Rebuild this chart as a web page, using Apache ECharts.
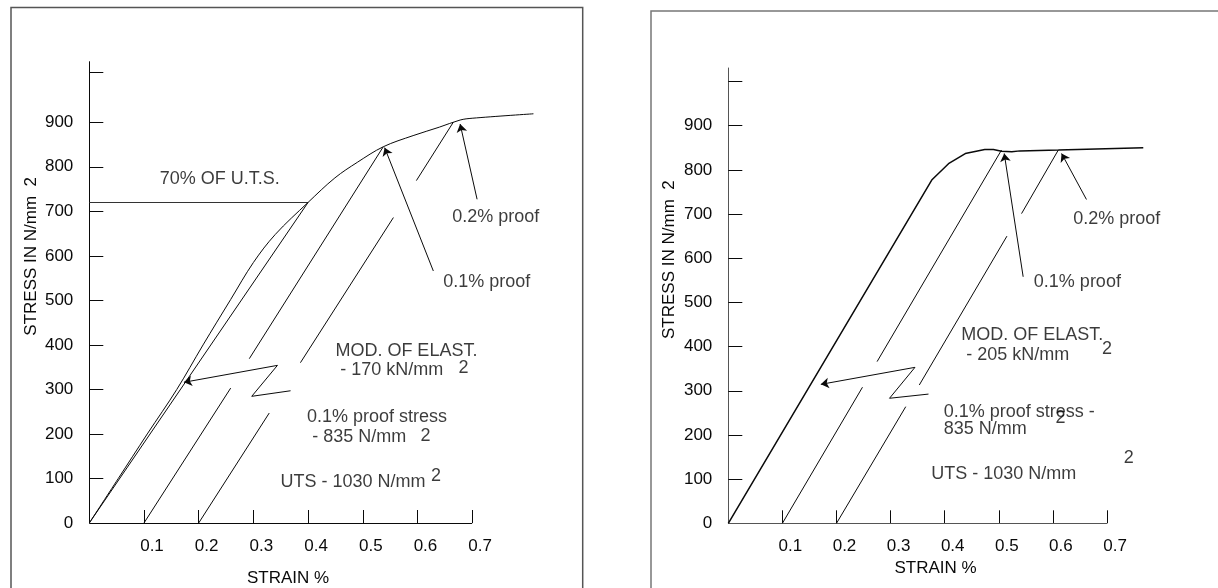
<!DOCTYPE html>
<html><head><meta charset="utf-8">
<script src="https://cdn.jsdelivr.net/npm/echarts@6/dist/echarts.min.js"></script>
<style>html,body{margin:0;padding:0;background:#fff}#c{width:1218px;height:588px}</style>
</head><body><div id="c"></div>
<script>
// ---------- data ----------
const strainTicks = [0.1, 0.2, 0.3, 0.4, 0.5, 0.6, 0.7];
const stressLabels = [0, 100, 200, 300, 400, 500, 600, 700, 800, 900];
const leftStressTicks = [100, 200, 300, 400, 500, 600, 700, 800, 900, 1012];
const rightStressTicks = [100, 200, 300, 400, 500, 600, 700, 800, 900, 1000];
const strainAxisLine = [[[0, 0], [0.7, 0]]];

// left chart (MOD. OF ELAST. 170 kN/mm2)
const leftCurve = [[0,0],[0.053,100],[0.106,200],[0.16,300],[0.208,400],[0.2585,502],[0.30,585],[0.34,648],[0.40,720],[0.449,775],[0.49,810],[0.5375,845],[0.592,870],[0.64,889],[0.678,905],[0.70,909],[0.812,919]];
const leftModulus = [[[0,0],[0.4,720]]];
const leftUts70 = [[[0,720],[0.4,720]]];
const leftOffset01 = [[[0.1,0],[0.2585,303]], [[0.2925,369],[0.5375,845]]];
const leftOffset02 = [[[0.2,0],[0.329,247]], [[0.386,360],[0.556,686]], [[0.598,769],[0.6655,900]]];
const leftZig = [[[0.368,297],[0.297,284.5]], [[0.297,284.5],[0.344,354]]];
const leftArrows = [[[0.344,354],[0.173,316]], [[0.629,566],[0.54,843]], [[0.709,727],[0.678,896]]];
const leftNotes = [
  ['70% OF U.T.S.', 0.128, 773],
  ['0.2% proof', 0.6625, 688],
  ['0.1% proof', 0.646, 542],
  ['MOD. OF ELAST.', 0.449, 387],
  ['- 170 kN/mm', 0.458, 344],
  ['2', 0.674, 347],
  ['0.1% proof stress', 0.397, 237.5],
  ['- 835 N/mm', 0.4066, 194],
  ['2', 0.6046, 195.5],
  ['UTS - 1030 N/mm', 0.3486, 92.8],
  ['2', 0.624, 106.3]
];

// right chart (MOD. OF ELAST. 205 kN/mm2)
const rightCurve = [[0,0],[0.376,777],[0.407,814],[0.438,837],[0.474,846],[0.49,846],[0.505,842],[0.524,841],[0.539,843],[0.61,845],[0.767,850]];
const rightOffset01 = [[[0.1,0],[0.248,308]], [[0.275,366],[0.505,845]]];
const rightOffset02 = [[[0.2,0],[0.328,264]], [[0.353,313],[0.515,650]], [[0.542,701],[0.61,845]]];
const rightZig = [[[0.37,292.5],[0.298,283]], [[0.298,283],[0.345,353]]];
const rightArrows = [[[0.345,353],[0.171,314.5]], [[0.545,558],[0.51,837]], [[0.662,733],[0.616,837]]];
const rightNotes = [
  ['0.2% proof', 0.6366, 688],
  ['0.1% proof', 0.5638, 547],
  ['MOD. OF ELAST.', 0.4296, 426],
  ['2', 0.690, 395],
  ['- 205 kN/mm', 0.4388, 381],
  ['0.1% proof stress -', 0.3974, 252.6],
  ['2', 0.6039, 237.7],
  ['835 N/mm', 0.3974, 212.8],
  ['2', 0.730, 147],
  ['UTS - 1030 N/mm', 0.3741, 111.6]
];

// ---------- chart ----------
const FONT = '"Liberation Sans", Arial, Helvetica, sans-serif';
const INK = '#0a0a0a';

function xAxisDef(gi, max, gap, pad) {
  return {
    type: 'value', gridIndex: gi, min: 0, max: max,
    name: 'STRAIN %', nameLocation: 'middle', nameGap: gap,
    nameTextStyle: { fontFamily: FONT, fontSize: 17, color: INK, padding: pad },
    axisLine: { show: false },
    axisTick: { show: true, inside: true, length: 13, customValues: strainTicks, lineStyle: { color: INK } },
    axisLabel: { show: true, customValues: strainTicks, margin: 15, fontFamily: FONT, fontSize: 17, color: INK,
      padding: [0, 0, 0, 16], formatter: v => v.toFixed(1) },
    splitLine: { show: false }
  };
}
function yAxisDef(gi, max, ticks, name) {
  return {
    type: 'value', gridIndex: gi, min: 0, max: max,
    name: name, nameLocation: 'middle', nameGap: gi === 0 ? 49 : 50, nameRotate: 90,
    nameTextStyle: { fontFamily: FONT, fontSize: 17, color: INK, padding: [0, 0, 0, 72] },
    axisLine: { show: true, lineStyle: { color: gi === 0 ? INK : '#555', width: 1 } },
    axisTick: { show: true, inside: true, length: 14, customValues: ticks, lineStyle: { color: INK } },
    axisLabel: { show: true, customValues: stressLabels, margin: 16, fontFamily: FONT, fontSize: 17, color: INK },
    splitLine: { show: false }
  };
}
function segs(data, gi, width, color) {
  return { type: 'lines', coordinateSystem: 'cartesian2d', xAxisIndex: gi, yAxisIndex: gi, silent: true, clip: false,
    symbol: 'none', lineStyle: { color: color || INK, width: width || 1, opacity: 1, curveness: 0 },
    data: data.map(c => ({ coords: c })) };
}
function arrows(data, gi) {
  return { type: 'lines', coordinateSystem: 'cartesian2d', xAxisIndex: gi, yAxisIndex: gi, silent: true, clip: false,
    symbol: ['none', 'arrow'], symbolSize: 8, lineStyle: { color: INK, width: 1, opacity: 1, curveness: 0 },
    itemStyle: { color: INK },
    data: data.map(c => ({ coords: c })) };
}
function curve(data, gi, smooth, width) {
  return { type: 'line', xAxisIndex: gi, yAxisIndex: gi, data: data, smooth: smooth, showSymbol: false, symbol: 'none',
    clip: false, silent: true, lineStyle: { color: INK, width: width }, z: 3 };
}
function notes(list, gi) {
  return { type: 'scatter', xAxisIndex: gi, yAxisIndex: gi, silent: true, clip: false, symbolSize: 1,
    itemStyle: { color: 'rgba(0,0,0,0)' },
    label: { show: true, position: 'right', distance: 0, formatter: p => p.name,
      fontFamily: FONT, fontSize: 18, color: INK },
    data: list.map(n => ({ name: n[0], value: [n[1], n[2]] })) };
}

const chart = echarts.init(document.getElementById('c'), null, { renderer: 'canvas' });
chart.setOption({
  animation: false,
  backgroundColor: '#fff',
  grid: [
    { left: 89.3, top: 61.7, width: 448.5, height: 461.3, outerBoundsMode: 'none', containLabel: false },
    { left: 728.3, top: 68, width: 416.6, height: 455.3, outerBoundsMode: 'none', containLabel: false }
  ],
  xAxis: [xAxisDef(0, 0.82, 47, [0, 51, 0, 0]), xAxisDef(1, 0.77, 36, [0, 2, 0, 0])],
  yAxis: [yAxisDef(0, 1036, leftStressTicks, 'STRESS IN N/mm  2'), yAxisDef(1, 1030.6, rightStressTicks, 'STRESS IN N/mm  2')],
  graphic: [
    { type: 'rect', silent: true, shape: { x: 11, y: 7.5, width: 571.7, height: 640 }, style: { fill: 'none', stroke: '#555', lineWidth: 1.5 } },
    { type: 'rect', silent: true, shape: { x: 651, y: 11, width: 640, height: 640 }, style: { fill: 'none', stroke: '#777', lineWidth: 1.5 } }
  ],
  series: [
    segs(strainAxisLine, 0),
    curve(leftCurve, 0, 0.35, 1),
    segs(leftModulus, 0),
    segs(leftUts70, 0, 1, '#333'),
    segs(leftOffset01, 0),
    segs(leftOffset02, 0),
    segs(leftZig, 0),
    arrows(leftArrows, 0),
    notes(leftNotes, 0),
    segs(strainAxisLine, 1, 1, '#555'),
    curve(rightCurve, 1, false, 1.5),
    segs(rightOffset01, 1),
    segs(rightOffset02, 1),
    segs(rightZig, 1),
    arrows(rightArrows, 1),
    notes(rightNotes, 1)
  ]
});
</script>
</body></html>
